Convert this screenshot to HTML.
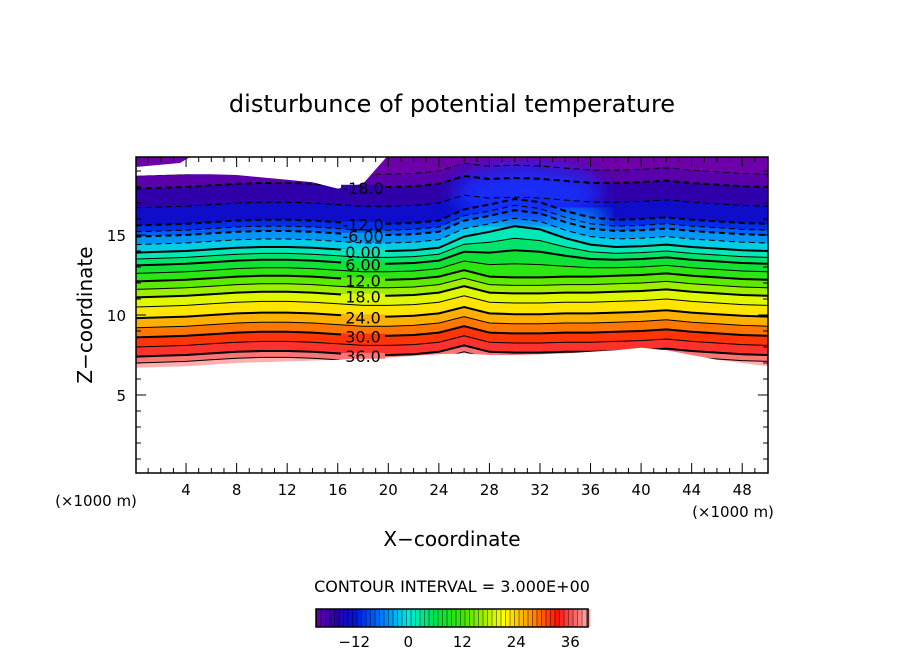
<!DOCTYPE html>
<html><head><meta charset="utf-8"><style>
body{margin:0;background:#fff;}
svg{display:block;font-family:"DejaVu Sans","Liberation Sans",sans-serif;}
</style></head><body>
<svg id="chart" width="904" height="654" viewBox="0 0 904 654">
<text x="452" y="112" text-anchor="middle" font-size="24">disturbunce of potential temperature</text>
<defs><clipPath id="pc"><rect x="136" y="157" width="632" height="316"/></clipPath>
<filter id="bl"><feGaussianBlur stdDeviation="10"/></filter></defs>
<g id="plot" clip-path="url(#pc)"></g>
<g id="axes"></g>
<text x="452" y="546" text-anchor="middle" font-size="20">X−coordinate</text>
<text transform="translate(92,315) rotate(-90)" text-anchor="middle" font-size="20">Z−coordinate</text>
<text x="96" y="506" text-anchor="middle" font-size="15">(×1000 m)</text>
<text x="733" y="517" text-anchor="middle" font-size="15">(×1000 m)</text>
<text x="452" y="592" text-anchor="middle" font-size="16">CONTOUR INTERVAL = 3.000E+00</text>
<g id="cbar"></g>
</svg>
<script>
const levels=[39,36,33,30,27,24,21,18,15,12,9,6,3,0,-3,-6,-9,-12,-15,-18,-21];
const levelBaseZ=[7.0,7.4,8.0,8.6,9.2,9.8,10.5,11.1,11.6,12.1,12.6,13.1,13.5,13.9,14.4,14.9,15.2,15.6,16.7,17.9,18.7];
const xSamples=[0,2,4,6,8,10,12,14,16,18,20,22,24,26,28,30,32,34,36,38,40,42,44,46,48,50];
const displacement=[0,0.05,0.1,0.2,0.3,0.35,0.35,0.3,0.2,0.1,0.1,0.15,0.3,0.7,0.3,0.25,0.25,0.3,0.3,0.35,0.4,0.5,0.35,0.25,0.15,0.1];
const upperLift=[0,0,0,0,0,0,0,0,0,0,0,0,0,0.3,1.0,1.4,1.2,0.6,0.2,0,0,0,0,0,0,0];
const bottomEdge=[6.7,6.75,6.8,6.9,7.0,7.05,7.1,7.15,7.2,7.3,7.35,7.45,7.55,7.6,7.5,7.5,7.55,7.6,7.7,7.8,7.95,7.8,7.5,7.2,7.0,6.8];
const topEdge=[18.7,18.75,18.8,18.8,18.75,18.6,18.45,18.3,17.9,18.2,20,20,20,20,20,20,20,20,20,20,20,20,20,20,20,20];
const xTicks=[4,8,12,16,20,24,28,32,36,40,44,48];
const zTicks=[5,10,15];
const cbTicks=[-12,0,12,24,36];
const labelLevels=[36,30,24,18,12,6,0,-6,-12,-18];

const NS="http://www.w3.org/2000/svg";
const X=x=>135.5+x*12.64, Z=z=>475-z*16;
const stops=[[-21,[110,0,170]],[-16,[40,0,170]],[-12,[0,20,220]],[-6,[0,120,255]],[0,[0,235,220]],[6,[0,225,70]],[12,[60,230,0]],[18,[190,240,0]],[21,[255,255,0]],[27,[255,150,0]],[33,[255,20,10]],[36,[250,80,80]],[40,[255,175,175]]];
function cmap(v){if(v<=stops[0][0])return `rgb(${stops[0][1]})`;for(let i=1;i<stops.length;i++){if(v<=stops[i][0]){const a=stops[i-1],b=stops[i],t=(v-a[0])/(b[0]-a[0]);return `rgb(${a[1].map((c,k)=>Math.round(c+(b[1][k]-c)*t)).join(',')})`;}}return `rgb(${stops[stops.length-1][1]})`;}
function mk(tag,attrs,parent){const e=document.createElementNS(NS,tag);for(const k in attrs)e.setAttribute(k,attrs[k]);parent.appendChild(e);return e;}
function lineZ(i,j){const L=levels[i];const w=Math.min(1,Math.max(0,(12-L)/12));return levelBaseZ[i]+displacement[j]+upperLift[j]*w*(L<-12?0.3:1);}
const plot=document.getElementById('plot');
function pts(i){return xSamples.map((x,j)=>`${X(x).toFixed(1)},${Z(lineZ(i,j)).toFixed(1)}`);}
let bg=mk('rect',{x:136,y:150,width:640,height:330,fill:cmap(-22)},plot);


for(let i=levels.length-1;i>=0;i--){
  const p=pts(i);
  const d='M'+X(0)+','+Z(0)+' L'+p.join(' L')+' L'+X(50)+','+Z(0)+' Z';
  const e=mk('path',{d:d,fill:cmap(levels[i]+1.5)},plot);
  
  
}
const blob=mk('ellipse',{cx:X(31),cy:Z(17.6),rx:75,ry:28,fill:'rgb(20,50,255)',filter:'url(#bl)',opacity:0.9},plot);


const blob2=mk('ellipse',{cx:X(35),cy:Z(15.8),rx:30,ry:12,fill:'rgb(0,170,255)',filter:'url(#bl)',opacity:0.9},plot);


for(let i=0;i<levels.length;i++){
  const L=levels[i];
  const e=mk('polyline',{points:pts(i).join(' '),fill:'none',stroke:'#000','stroke-width':(L%6===0)?2:1,'stroke-dasharray':L<0?'6,4':'none'},plot);
  
  
}
const wb='M'+X(0)+','+Z(-1)+' L'+xSamples.map((x,j)=>X(x)+','+Z(bottomEdge[j])).join(' L')+' L'+X(50)+','+Z(-1)+' Z';
let e=mk('path',{d:wb,fill:'#fff'},plot);


const wt='M'+X(0)+','+Z(21)+' L'+xSamples.map((x,j)=>X(x)+','+Z(topEdge[j])).join(' L')+' L'+X(50)+','+Z(21)+' Z';
e=mk('path',{d:wt,fill:'#fff'},plot);


e=mk('path',{d:'M136,157 L190,157 L180,163 L136,167 Z',fill:cmap(-22)},plot);


labelLevels.forEach(L=>{
  const i=levels.indexOf(L);const j=9;const z=lineZ(i,j)-0.05;
  const txt=(L>=12||L<=-12)?L.toFixed(1):L.toFixed(2);
  const r=mk('rect',{x:X(18)-22,y:Z(z)-3,width:44,height:6,fill:cmap(L+1.5)},plot);
  
  
  const t=mk('text',{x:X(18),y:Z(z)+6,'text-anchor':'middle','font-size':16},plot);
  t.textContent=txt;
  
  
});
const ax=document.getElementById('axes');
e=mk('rect',{x:136,y:157,width:632,height:316,fill:'none',stroke:'#000','stroke-width':1.5},ax);


for(let x=1;x<50;x++){const big=x%4===0;
  mk('line',{x1:X(x),x2:X(x),y1:473,y2:473-(big?10:5),stroke:'#000'},ax);
  mk('line',{x1:X(x),x2:X(x),y1:157,y2:157+(big?10:5),stroke:'#000'},ax);}
for(let z=1;z<20;z++){const big=z%5===0;
  mk('line',{x1:136,x2:136+(big?10:5),y1:Z(z),y2:Z(z),stroke:'#000'},ax);
  mk('line',{x1:768,x2:768-(big?10:5),y1:Z(z),y2:Z(z),stroke:'#000'},ax);}
xTicks.forEach(x=>{const t=mk('text',{x:X(x),y:495,'text-anchor':'middle','font-size':15},ax);t.textContent=x;
  
  });
zTicks.forEach(z=>{const t=mk('text',{x:126,y:Z(z)+6,'text-anchor':'end','font-size':15},ax);t.textContent=z;
  
  });
const cb=document.getElementById('cbar');
const C=v=>316+(v+20.5)*4.5;
for(let v=-20.5;v<40;v+=1){
  const r=mk('rect',{x:C(v),y:609,width:4.5,height:18,fill:cmap(v+0.5)},cb);
  
  
  mk('line',{x1:C(v)+0.5,x2:C(v)+0.5,y1:610,y2:626,stroke:'rgba(0,0,0,0.45)','stroke-width':1},cb);
}
e=mk('rect',{x:316,y:609,width:272,height:18,fill:'none',stroke:'#000','stroke-width':1.5},cb);


cbTicks.forEach(v=>{const t=mk('text',{x:C(v),y:647,'text-anchor':'middle','font-size':15},cb);t.textContent=v<0?'−'+(-v):v;
  
  });
</script>
</body></html>
